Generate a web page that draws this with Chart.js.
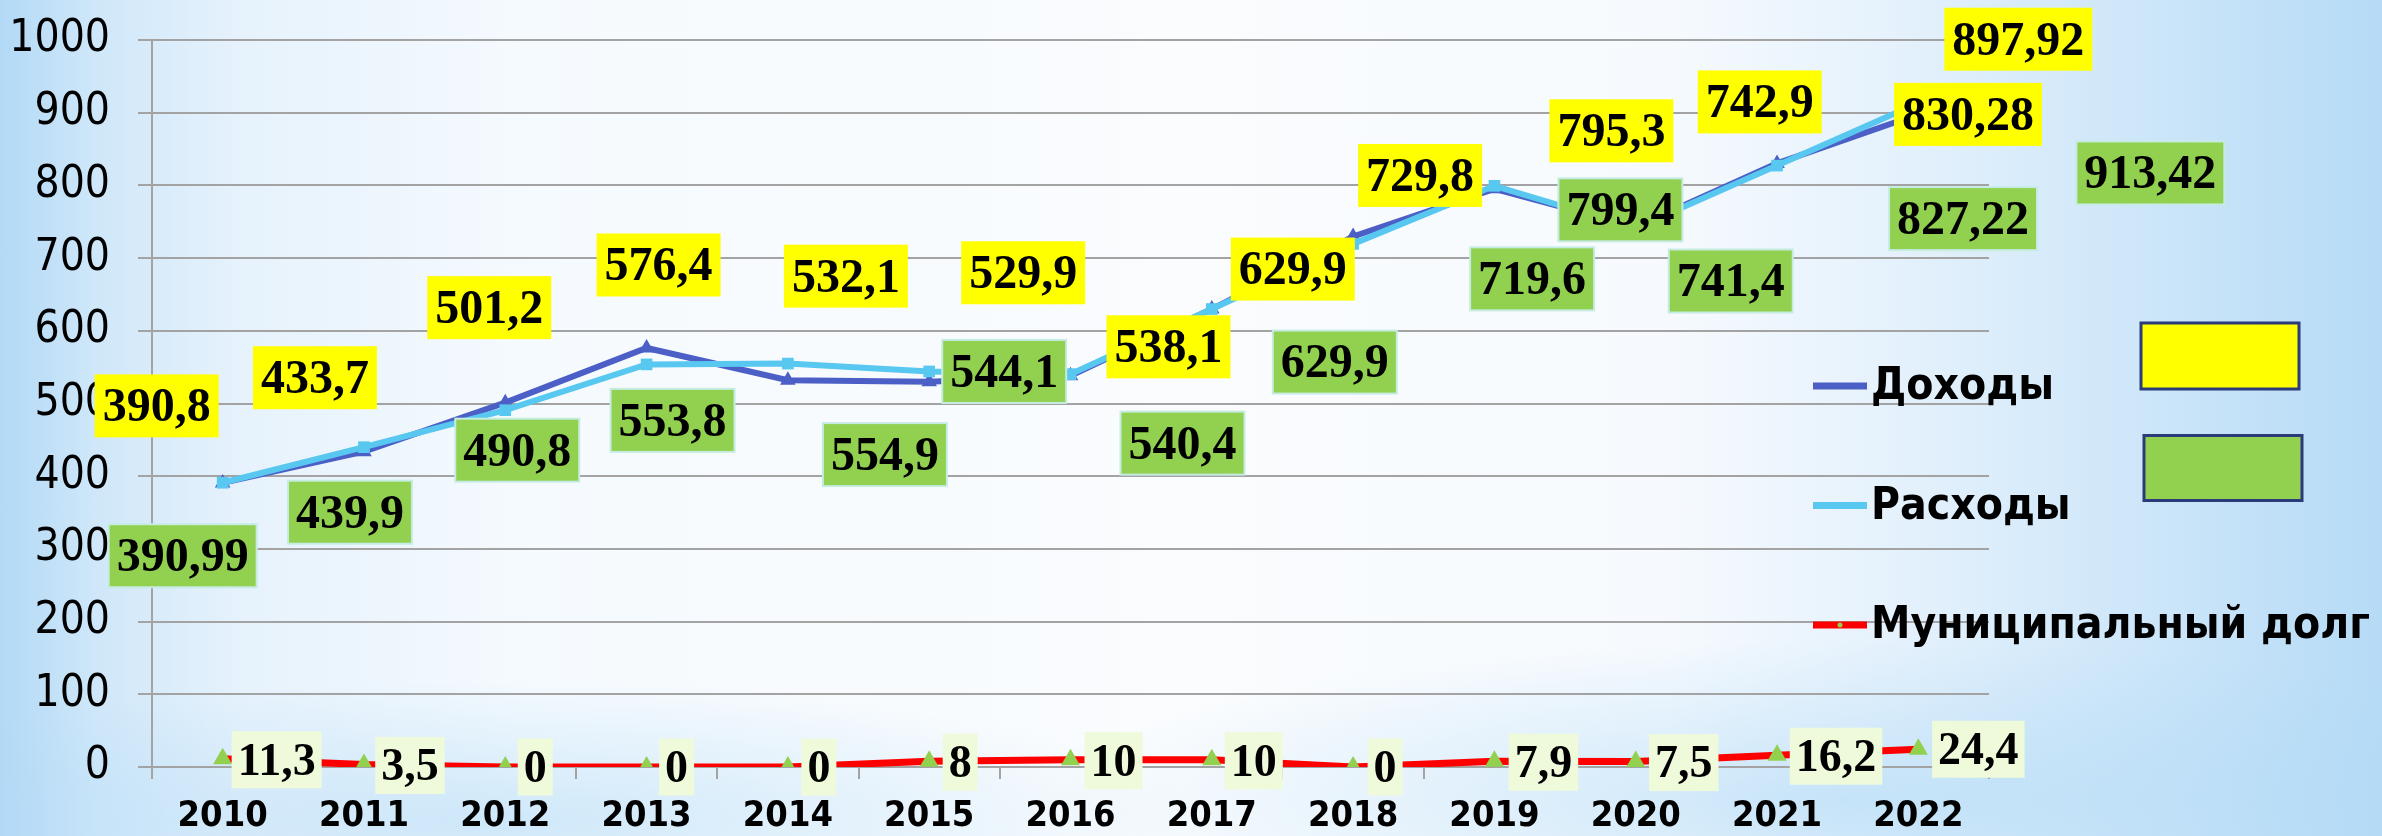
<!DOCTYPE html>
<html lang="ru">
<head>
<meta charset="utf-8">
<title>Доходы, расходы и муниципальный долг</title>
<script src="https://cdn.jsdelivr.net/npm/chart.js@4.4.1/dist/chart.umd.min.js"></script>
<style>
  html, body { margin: 0; padding: 0; }
  body {
    width: 2382px; height: 836px; overflow: hidden;
    background:
      radial-gradient(ellipse 800px 160px at 1850px 800px, rgba(168, 214, 245, 0.55), rgba(168, 214, 245, 0)),
      radial-gradient(ellipse 700px 140px at 500px 820px, rgba(168, 214, 245, 0.5), rgba(168, 214, 245, 0)),
      linear-gradient(90deg, #b2d9f6 0%, #cfe7f9 4%, #e6f2fc 10%, #f5fafe 22%, #fafcfe 50%, #f6fafe 70%, #e4f1fc 80%, #cde6f9 90%, #b6dbf6 100%);
  }
  canvas { display: block; }
</style>
</head>
<body>
<canvas id="chart" width="2382" height="836"></canvas>
<script>
// DATA
const years = ['2010', '2011', '2012', '2013', '2014', '2015', '2016', '2017', '2018', '2019', '2020', '2021', '2022'];
const incomeValues = [390.8, 433.7, 501.2, 576.4, 532.1, 529.9, 538.1, 629.9, 729.8, 795.3, 742.9, 830.28, 897.92];
const expenseValues = [390.99, 439.9, 490.8, 553.8, 554.9, 544.1, 540.4, 629.9, 719.6, 799.4, 741.4, 827.22, 913.42];
const debtValues = [11.3, 3.5, 0, 0, 0, 8, 10, 10, 0, 7.9, 7.5, 16.2, 24.4];
const yMin = 0, yMax = 1000, yStep = 100;

// label boxes sit a little away from their points (pixel offsets, as on the slide)
const incomeLabelShift = [[-66, -77], [-49, -74], [-16, -95], [12, -83], [58, -104], [94, -109], [98, -29], [81, -40], [67, -61], [117, -58], [124, -125], [191, -49], [100, -75]];
const expenseLabelShift = [[-40, 73], [-14, 65], [12, 40], [26, 56], [97, 91], [75, 0], [112, 69], [123, 53], [179, 35], [126, 24], [95, 53], [186, 53], [232, 70]];
const debtLabelShift = [[54, 1], [46, 1], [30, 0], [30, 0], [31, 0], [31, 1], [43, 1], [42, 1], [32, 0], [49, 1], [48, 1], [59, 1], [60, 0]];

const SANS = "'DejaVu Sans Condensed', 'Liberation Sans Narrow', sans-serif";
const SERIF = "'Liberation Serif', 'Times New Roman', serif";
const GRID = '#a3a3a3';

const fmt = v => String(v).replace('.', ',');

// value boxes
const valueLabels = {
  id: 'valueLabels',
  afterDatasetsDraw(chart) {
    const ctx = chart.ctx;
    chart.data.datasets.forEach((ds, i) => {
      const meta = chart.getDatasetMeta(i);
      const st = ds.boxStyle;
      ctx.save();
      ctx.font = st.font;
      ctx.textAlign = 'center';
      ctx.textBaseline = 'middle';
      meta.data.forEach((pt, j) => {
        const txt = fmt(ds.data[j]);
        const cx = pt.x + ds.labelShift[j][0];
        const cy = pt.y + ds.labelShift[j][1];
        const w = ctx.measureText(txt).width + st.padX * 2;
        const h = st.height;
        ctx.fillStyle = st.fill;
        ctx.fillRect(cx - w / 2, cy - h / 2, w, h);
        if (st.border) {
          ctx.strokeStyle = st.border;
          ctx.lineWidth = 2;
          ctx.strokeRect(cx - w / 2, cy - h / 2, w, h);
        }
        ctx.fillStyle = '#000';
        ctx.fillText(txt, cx, cy + 3);
      });
      ctx.restore();
    });
  }
};

// legend on the right, drawn over the plot like on the slide
const sideLegend = {
  id: 'sideLegend',
  afterDraw(chart) {
    const ctx = chart.ctx;
    const x0 = 1813, lineLen = 54, top = 386, gap = 119.5;
    ctx.save();
    chart.data.datasets.forEach((ds, i) => {
      const y = top + i * gap;
      ctx.strokeStyle = ds.borderColor;
      ctx.lineWidth = 7;
      ctx.beginPath();
      ctx.moveTo(x0, y);
      ctx.lineTo(x0 + lineLen, y);
      ctx.stroke();
      ctx.fillStyle = ds.pointBackgroundColor;
      ctx.beginPath();
      ctx.arc(x0 + lineLen / 2, y, 2.5, 0, Math.PI * 2);
      ctx.fill();
      ctx.fillStyle = '#000';
      ctx.font = 'bold 44px ' + SANS;
      ctx.textAlign = 'left';
      ctx.textBaseline = 'middle';
      ctx.fillText(ds.label, x0 + lineLen + 4, y + 2);
      if (ds.keyBox) {
        ctx.fillStyle = ds.boxStyle.fill;
        ctx.fillRect(ds.keyBox[0], y + ds.keyBox[1], ds.keyBox[2], ds.keyBox[3]);
        ctx.strokeStyle = '#2b3a78';
        ctx.lineWidth = 3;
        ctx.strokeRect(ds.keyBox[0], y + ds.keyBox[1], ds.keyBox[2], ds.keyBox[3]);
      }
    });
    ctx.restore();
  }
};

const cfg = {
  type: 'line',
  data: {
    labels: years,
    datasets: [
      {
        label: 'Доходы',
        data: incomeValues,
        borderColor: '#4b5fc6',
        borderWidth: 6,
        pointStyle: 'triangle',
        pointRadius: 3,
        pointBackgroundColor: '#4b5fc6',
        pointBorderColor: '#4b5fc6',
        order: 1,
        labelShift: incomeLabelShift,
        boxStyle: { fill: '#ffff00', font: 'bold 48px ' + SERIF, padX: 8, height: 63 },
        keyBox: [2141, -63, 158, 66]
      },
      {
        label: 'Расходы',
        data: expenseValues,
        borderColor: '#58c8f0',
        borderWidth: 6,
        pointStyle: 'rect',
        pointRadius: 4,
        pointBackgroundColor: '#58c8f0',
        pointBorderColor: '#58c8f0',
        order: 0,
        labelShift: expenseLabelShift,
        boxStyle: { fill: '#92d050', border: '#c6ece2', font: 'bold 48px ' + SERIF, padX: 8, height: 63 },
        keyBox: [2144, -70, 158, 65]
      },
      {
        label: 'Муниципальный долг',
        data: debtValues,
        borderColor: '#ff0000',
        borderWidth: 7,
        pointStyle: 'triangle',
        pointRadius: 4,
        pointBackgroundColor: '#92d050',
        pointBorderColor: '#92d050',
        order: 2,
        labelShift: debtLabelShift,
        boxStyle: { fill: '#effadb', font: 'bold 46px ' + SERIF, padX: 6, height: 57 }
      }
    ]
  },
  options: {
    responsive: false,
    animation: false,
    layout: { padding: { left: 0, top: 40, right: 393, bottom: 0 } },
    plugins: {
      legend: { display: false },
      tooltip: { enabled: false }
    },
    scales: {
      x: {
        offset: true,
        afterFit: s => { s.height = 69; },
        grid: { offset: true, drawOnChartArea: false, color: GRID, lineWidth: 2, tickLength: 12 },
        border: { display: true, color: GRID, width: 2 },
        ticks: { color: '#000', font: { family: SANS, size: 36, weight: 'bold' }, padding: 16 }
      },
      y: {
        min: yMin,
        max: yMax,
        afterFit: s => { s.width = 152; s.paddingTop = 0; s.paddingBottom = 0; },
        grid: { color: GRID, lineWidth: 2, tickLength: 14 },
        border: { display: true, color: GRID, width: 2 },
        ticks: {
          stepSize: yStep,
          color: '#000',
          font: { family: SANS, size: 44 },
          padding: 28,
          callback: v => String(v)
        }
      }
    }
  },
  plugins: [valueLabels, sideLegend]
};

new Chart(document.getElementById('chart'), cfg);
</script>
</body>
</html>
